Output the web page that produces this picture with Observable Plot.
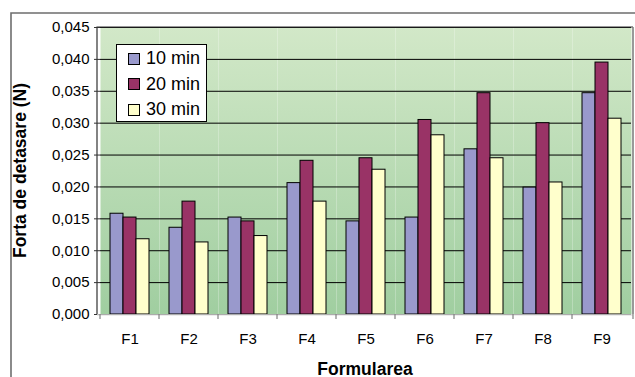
<!DOCTYPE html>
<html>
<head>
<meta charset="utf-8">
<script src="https://cdn.jsdelivr.net/npm/d3@7"></script>
<script src="https://cdn.jsdelivr.net/npm/@observablehq/plot@0.6"></script>
<style>
  body { margin: 0; background: #fff; font-family: "Liberation Sans", Arial, sans-serif; }
  #chart { position: relative; width: 635px; height: 377px; overflow: hidden; }
  #chart svg { position: absolute; left: 0; top: 0; }
  .legend {
    position: absolute; left: 116px; top: 44px; width: 89px; height: 75px;
    background: #fff; border: 1px solid #000; padding-top: 1px; box-sizing: content-box;
  }
  .legend .row { height: 25.5px; display: flex; align-items: center; font-size: 18px; color: #000; }
  .legend .sw { width: 10px; height: 10px; border: 1px solid #000; margin-left: 11px; margin-right: 6px; }
</style>
</head>
<body>
<div id="chart"></div>
<script>
// Formulations on the x axis and the three contact times
const formulations = ["F1", "F2", "F3", "F4", "F5", "F6", "F7", "F8", "F9"];
const series = ["10 min", "20 min", "30 min"];

// Detachment force (N) per formulation
const force10 = [0.0158, 0.0136, 0.0152, 0.0206, 0.0146, 0.0152, 0.0259, 0.0199, 0.0347];
const force20 = [0.0152, 0.0177, 0.0146, 0.0241, 0.0245, 0.0305, 0.0347, 0.0300, 0.0395];
const force30 = [0.0118, 0.0113, 0.0123, 0.0177, 0.0227, 0.0281, 0.0245, 0.0207, 0.0307];

const seriesColors = ["#9999cc", "#993366", "#ffffcc"];
const yTicks = [0, 0.005, 0.010, 0.015, 0.020, 0.025, 0.030, 0.035, 0.040, 0.045];

const bySeries = [force10, force20, force30];
const rows = formulations.flatMap((f, i) =>
  series.map((s, j) => ({formula: f, series: s, value: bySeries[j][i]}))
);

const commaFormat = d => d3.format(".3f")(d).replace(".", ",");

const plot = Plot.plot({
  width: 635,
  height: 377,
  marginLeft: 97,
  marginTop: 27,
  marginRight: 2,
  marginBottom: 63,
  style: {fontFamily: "'Liberation Sans', Arial, sans-serif", fontSize: "15px", color: "#000", background: "transparent", overflow: "visible"},
  fx: {domain: formulations, padding: 0, label: null, axis: null},
  x: {domain: series, paddingInner: 0, paddingOuter: 0.71, axis: null},
  y: {domain: [0, 0.045], label: null},
  color: {domain: series, range: seriesColors},
  marks: [
    Plot.frame({fill: "url(#plotBg)", stroke: null}),
    Plot.gridY(yTicks, {stroke: "#000", strokeOpacity: 1, strokeWidth: 1}),
    Plot.barY(rows, {fx: "formula", x: "series", y: "value", fill: "series", stroke: "#000", strokeWidth: 1}),
    Plot.axisY(yTicks, {tickFormat: commaFormat, tickSize: 6, tickPadding: 5, label: null, stroke: "#333", fill: "#000"}),
    Plot.axisFx({anchor: "bottom", tickSize: 0, tickPadding: 19, label: null, fill: "#000"})
  ]
});

const chart = document.getElementById("chart");
chart.appendChild(plot);

// Plot-area decorations: gradient fill, borders, category separators, titles
const svg = d3.select(plot);
const grad = svg.insert("defs", ":first-child")
  .append("linearGradient").attr("id", "plotBg")
  .attr("x1", 0).attr("y1", 0).attr("x2", 0).attr("y2", 1);
grad.append("stop").attr("offset", "0%").attr("stop-color", "#d2e8c8");
grad.append("stop").attr("offset", "100%").attr("stop-color", "#a0cea0");

const fxScale = plot.scale("fx");
const yScale = plot.scale("y");
const areaLeft = fxScale.range[0], areaRight = fxScale.range[1];
const areaTop = Math.min(...yScale.range), areaBottom = Math.max(...yScale.range);

const deco = svg.append("g");
// outer chart border
deco.append("path").attr("d", "M11,377V13H640").attr("fill", "none").attr("stroke", "#6e6e6e").attr("stroke-width", 1.6);
// plot-area border
deco.append("path").attr("d", `M${areaLeft},${areaBottom}V${areaTop}H${areaRight}`).attr("fill", "none").attr("stroke", "#333").attr("stroke-width", 1.2);
deco.append("line").attr("x1", areaRight).attr("x2", areaRight).attr("y1", areaTop).attr("y2", areaBottom).attr("stroke", "#808080").attr("stroke-width", 1.6);
deco.append("line").attr("x1", areaLeft).attr("x2", areaRight).attr("y1", areaBottom + 1).attr("y2", areaBottom + 1).attr("stroke", "#e6e6e6").attr("stroke-width", 1.5);
// separators between categories
const edges = fxScale.domain.map(d => fxScale.apply(d)).concat([areaRight]);
deco.selectAll("line.sep").data(edges).join("line")
  .attr("x1", d => d).attr("x2", d => d).attr("y1", areaBottom).attr("y2", areaBottom + 5)
  .attr("stroke", "#808080").attr("stroke-width", 1.2);
// axis titles
deco.append("text").text("Forta de detasare (N)")
  .attr("transform", `translate(26,${(areaTop + areaBottom) / 2}) rotate(-90)`)
  .attr("text-anchor", "middle").attr("font-weight", "bold").attr("font-size", 17.5).attr("fill", "#000");
deco.append("text").text("Formularea")
  .attr("x", (areaLeft + areaRight) / 2).attr("y", 374.5)
  .attr("text-anchor", "middle").attr("font-weight", "bold").attr("font-size", 17.5).attr("fill", "#000");

// legend
const legend = d3.select(chart).append("div").attr("class", "legend");
series.forEach((s, i) => {
  const row = legend.append("div").attr("class", "row");
  row.append("div").attr("class", "sw").style("background", seriesColors[i]);
  row.append("span").text(s);
});
</script>
</body>
</html>
